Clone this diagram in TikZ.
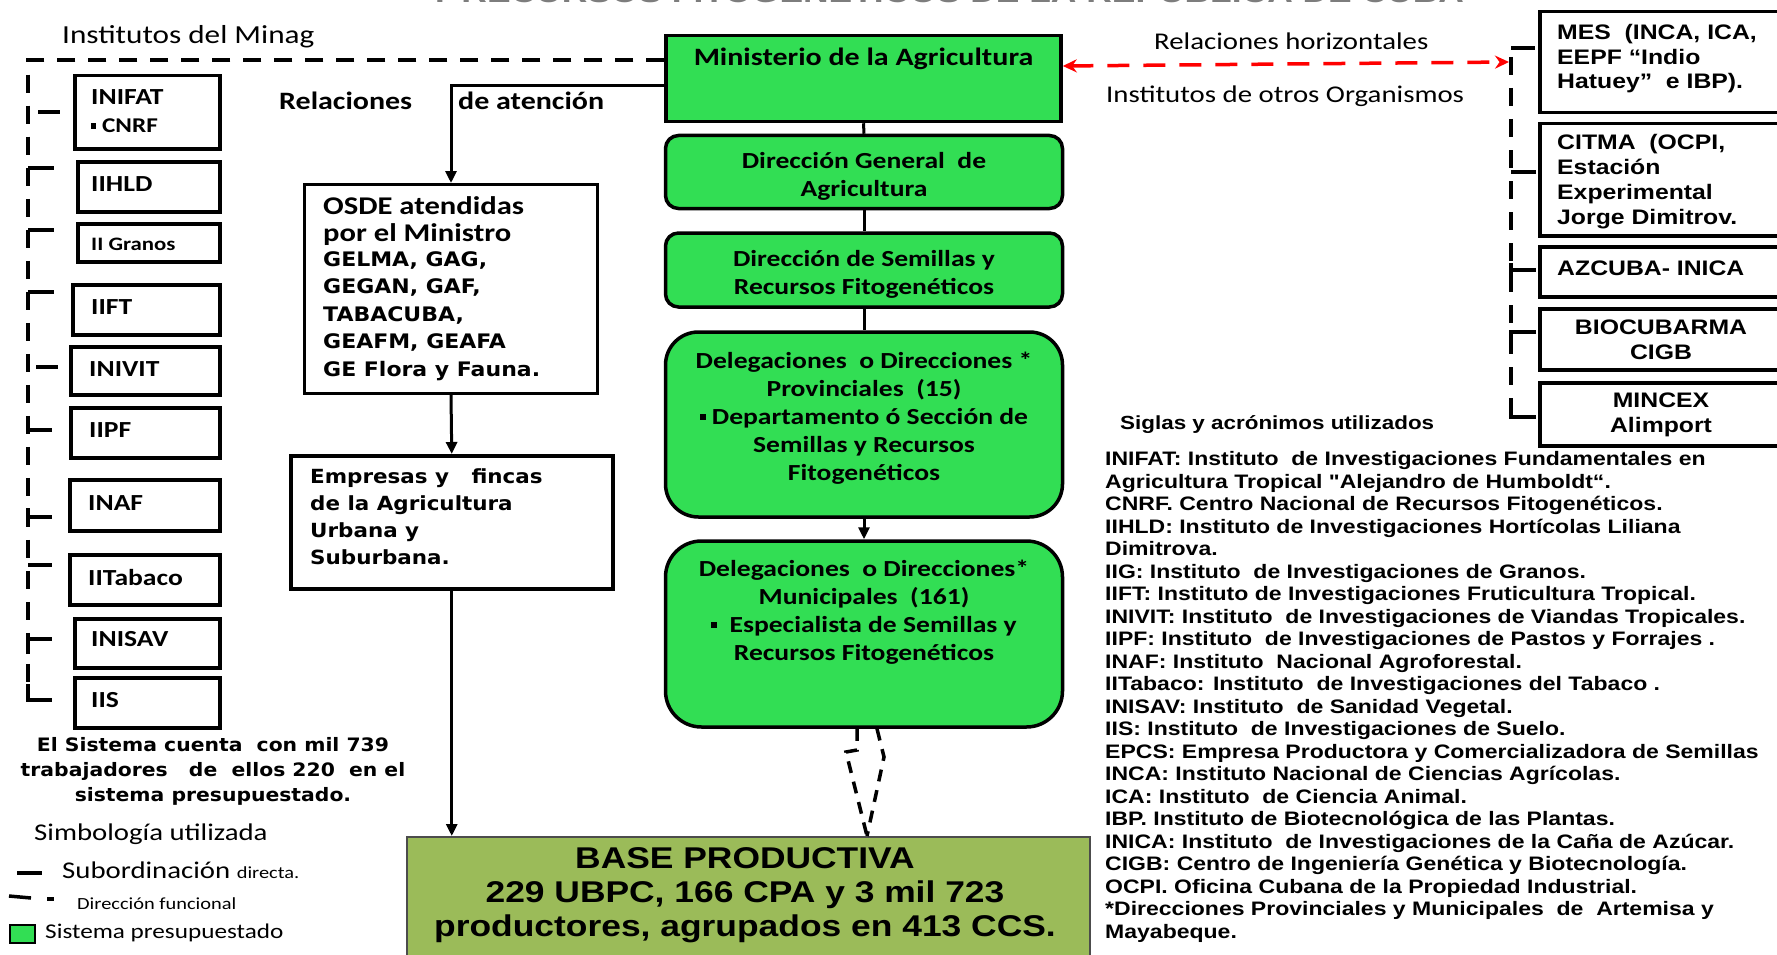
\documentclass[tikz,border=0pt]{standalone}
\usepackage{fontspec}
\setmainfont{Carlito}
\newfontfamily\calfont[FakeStretch=1.2]{Carlito}
\newfontfamily\verdfont[FakeStretch=1.1]{DejaVu Sans}
\newfontfamily\arifont[FakeStretch=1.18]{Liberation Sans}
\usetikzlibrary{arrows.meta,calc}
\definecolor{gfill}{RGB}{50,222,84}
\definecolor{ofill}{RGB}{155,187,89}
\definecolor{titlegrey}{RGB}{125,125,125}
\newcommand{\fsz}[2]{\fontsize{#1}{#2}\selectfont}
\newcommand{\sqb}{\rule[0.2em]{0.25em}{0.25em}}
\tikzset{
 wbox/.style={draw=black, line width=3.5pt, fill=white, inner sep=0pt, anchor=north west},
 gbox/.style={draw=black, line width=3.5pt, fill=gfill, inner sep=0pt, rounded corners=13pt},
 txt/.style={inner sep=0pt, align=left, anchor=west},
 ctxt/.style={inner sep=0pt, align=center},
 lbl/.style={inner sep=0pt, anchor=west, font=\calfont\bfseries\fsz{23}{27}},
 gtxt/.style={inner sep=0pt, align=center, font=\calfont\bfseries\fsz{23}{28}},
 conn/.style={line width=3pt},
 dline/.style={line width=3.5pt, dash pattern=on 18pt off 13pt},
 zline/.style={line width=3.5pt, dash pattern=on 12pt off 9pt},
 tick/.style={line width=3.5pt},
 arr/.style={-{Triangle[length=12pt,width=11pt]}},
}
\begin{document}
\begin{tikzpicture}[x=1pt,y=-1pt]
\useasboundingbox (0,0) rectangle (1777,955);
\fill[white] (0,0) rectangle (1777,955);
\clip (0,0) rectangle (1777,955);

% title (cut off at the top)
\node[inner sep=0pt, anchor=base, text=titlegrey, font=\arifont\bfseries\fsz{30}{34}] (title) at (946,3) {Y RECURSOS FITOGENÉTICOS DE LA REPÚBLICA DE CUBA};

% ---------- left: institutes of Minag ----------
\node[inner sep=0pt, anchor=west, font=\calfont\fsz{26}{30}] (tminag) at (62,37) {Institutos del Minag};

\node[wbox, minimum width=145pt, minimum height=73pt] (inifat) at (73,74) {};
\node[wbox, minimum width=142pt, minimum height=50pt] (iihld) at (76,160) {};
\node[wbox, minimum width=142pt, minimum height=38pt] (iig) at (76,222) {};
\node[wbox, minimum width=147pt, minimum height=50pt] (iift) at (71,283) {};
\node[wbox, minimum width=149pt, minimum height=48pt] (inivit) at (69,345) {};
\node[wbox, minimum width=149pt, minimum height=50pt] (iipf) at (69,406) {};
\node[wbox, minimum width=150pt, minimum height=51pt] (inaf) at (68,478) {};
\node[wbox, minimum width=150pt, minimum height=50pt] (iitab) at (68,553) {};
\node[wbox, minimum width=145pt, minimum height=49pt] (inisav) at (73,617) {};
\node[wbox, minimum width=145pt, minimum height=50pt] (iis) at (73,676) {};

\node[lbl] (linifat) at (91,97) {INIFAT};
\node[lbl, font=\calfont\bfseries\fsz{21}{25}] (lcnrf) at (91,126) {\sqb\ CNRF};
\node[lbl] (liihld) at (91,184) {IIHLD};
\node[lbl, font=\calfont\bfseries\fsz{19}{23}] (liig) at (91,244) {II Granos};
\node[lbl] (liift) at (91,307) {IIFT};
\node[lbl] (linivit) at (89,369) {INIVIT};
\node[lbl] (liipf) at (89,430) {IIPF};
\node[lbl] (linaf) at (88,503) {INAF};
\node[lbl] (liitab) at (88,578) {IITabaco};
\node[lbl] (linisav) at (91,639) {INISAV};
\node[lbl] (liis) at (91,700) {IIS};

% ---------- centre column ----------
\node[draw=black, line width=3.5pt, fill=gfill, inner sep=0pt, minimum width=395pt, minimum height=86pt] (min) at (863.5,78.5) {};
\node[gtxt, font=\calfont\bfseries\fsz{25}{28}] (tmin) at (863.5,59) {Ministerio de la Agricultura};

\node[gbox, minimum width=397pt, minimum height=73pt] (dg) at (864,172) {};
\node[gtxt] (tdg) at (864,176) {Dirección General\ \ de\\Agricultura};

\node[gbox, minimum width=397pt, minimum height=74pt] (dsr) at (864,270) {};
\node[gtxt] (tdsr) at (864,274) {Dirección de Semillas y\\Recursos Fitogenéticos};

\node[gbox, rounded corners=33pt, minimum width=397pt, minimum height=185pt] (prov) at (864,424.5) {};
\node[gtxt] (tprov) at (864,418) {Delegaciones\ \ o Direcciones *\\Provinciales\ \ (15)\\\sqb\ Departamento ó Sección de\\Semillas y Recursos\\Fitogenéticos};

\node[gbox, rounded corners=36pt, minimum width=397pt, minimum height=186pt] (mun) at (864,634) {};
\node[gtxt] (tmun) at (864,612) {Delegaciones\ \ o Direcciones*\\Municipales\ \ (161)\\\sqb\ \ Especialista de Semillas y\\Recursos Fitogenéticos};

\node[draw=black!70, line width=1.5pt, fill=ofill, inner sep=0pt, anchor=north west, minimum width=683pt, minimum height=140pt] (base) at (406,836) {};
\node[ctxt, font=\arifont\bfseries\fsz{30}{34}] (tbase) at (745,895) {BASE PRODUCTIVA\\229 UBPC, 166 CPA y 3 mil 723\\productores, agrupados en 413 CCS.};

\draw[conn] (min.south) -- (dg.north);
\draw[conn] (dg.south) -- (dsr.north);
\draw[conn] (dsr.south) -- (prov.north);
\draw[conn, arr] (prov.south) -- (mun.north);

% functional (dashed) link to base
\coordinate (za1) at (857,750);
\coordinate (za2) at (846,752);
\coordinate (zb1) at (884,757);
\coordinate (zbot) at (867,836);
\draw[zline] ([xshift=-7pt]mun.south) -- (za1) -- (za2) -- (zbot);
\draw[zline] ([xshift=13pt]mun.south) -- (zb1) -- (zbot);

% ---------- OSDE / Empresas ----------
\node[draw=black, line width=3pt, fill=white, inner sep=0pt, anchor=north west, minimum width=293pt, minimum height=209pt] (osde) at (303,183) {};
\node[txt, font=\calfont\bfseries\fsz{25.5}{27}] (tosde1) at (323,221) {OSDE atendidas\\por el Ministro};
\node[txt, font=\verdfont\bfseries\fsz{20}{27.5}] (tosde2) at (323,316) {GELMA, GAG,\\GEGAN, GAF,\\TABACUBA,\\GEAFM, GEAFA\\GE Flora y Fauna.};

\node[draw=black, line width=3.5pt, fill=white, inner sep=0pt, anchor=north west, minimum width=322pt, minimum height=133pt] (emp) at (289,454) {};
\node[txt, font=\verdfont\bfseries\fsz{19.5}{27}] (temp) at (310,517) {Empresas y\ \ \ fincas\\de la Agricultura\\Urbana y\\Suburbana.};

\coordinate (c86) at (0,86);
\draw[conn, arr] (min.west |- c86) -| (osde.north);
\draw[conn, arr] (osde.south) -- (emp.north);
\draw[conn, arr] (emp.south) -- (emp.south |- base.north);

\node[inner sep=0pt, anchor=west, font=\calfont\bfseries\fsz{25}{28}] (rel1) at (279,101) {Relaciones};
\node[inner sep=0pt, anchor=west, font=\calfont\bfseries\fsz{25}{28}] (rel2) at (458,101) {de atención};

% dashed functional frame of the institutes
\coordinate (ctop) at (28,60);
\coordinate (cbot) at (28,700);
\draw[dline] (min.west |- ctop) -- (ctop) -- (cbot);
\draw[tick] (38,112) -- (60,112);
\draw[tick] (28,168) -- (54,168);
\draw[tick] (28,230) -- (54,230);
\draw[tick] (28,292) -- (54,292);
\draw[tick] (36,367) -- (58,367);
\draw[tick] (30,430) -- (52,430);
\draw[tick] (28,508) -- (28,524);
\draw[tick] (28,517) -- (52,517);
\draw[tick] (28,565) -- (52,565);
\draw[tick] (28,654) -- (28,639) -- (52,639);
\draw[tick] (28,684) -- (28,700) -- (52,700);

% ---------- right: other organisms ----------
\node[inner sep=0pt, anchor=west, font=\calfont\fsz{24}{28}] (relh) at (1154,41) {Relaciones horizontales};
\node[inner sep=0pt, anchor=west, font=\calfont\fsz{24}{28}] (iotros) at (1106,96) {Institutos de otros Organismos};

\node[wbox, minimum width=262pt, minimum height=101pt] (mes) at (1538,10) {};
\node[wbox, minimum width=262pt, minimum height=112pt] (citma) at (1538,122) {};
\node[wbox, minimum width=262pt, minimum height=50pt] (azcuba) at (1538,245) {};
\node[wbox, minimum width=262pt, minimum height=61pt] (bio) at (1538,307) {};
\node[wbox, minimum width=262pt, minimum height=63pt] (mincex) at (1538,381) {};

\node[txt, font=\arifont\bfseries\fsz{21}{24.5}] (tmes) at (1557,59) {MES\ \ (INCA, ICA,\\EEPF “Indio\\Hatuey”\ \ e IBP).};
\node[txt, font=\arifont\bfseries\fsz{21}{25}] (tcitma) at (1557,182) {CITMA\ \ (OCPI,\\Estación\\Experimental\\Jorge Dimitrov.};
\node[txt, font=\arifont\bfseries\fsz{21}{25}] (tazc) at (1557,268) {AZCUBA- INICA};
\node[ctxt, font=\arifont\bfseries\fsz{21}{25}] (tbio) at (1661,340) {BIOCUBARMA\\CIGB};
\node[ctxt, font=\arifont\bfseries\fsz{21}{25}] (tminc) at (1661,415) {MINCEX\\Alimport};

\coordinate (rtop) at (1511,57);
\coordinate (rbot) at (1511,417);
\draw[dline] (rtop) -- (rbot);
\draw[tick] (1511,48) -- (1535,48);
\draw[tick] (1511,172) -- (1536,172);
\draw[tick] (1511,263) -- (1511,278);
\draw[tick] (1511,270) -- (1536,270);
\draw[tick] (1511,345) -- (1511,332) -- (1536,332);
\draw[tick] (1511,402) -- (1511,417) -- (1536,417);

\draw[red, line width=3.5pt, dash pattern=on 22pt off 14pt, {Stealth[length=14pt,width=13pt]}-{Stealth[length=14pt,width=13pt]}] ([yshift=12.5pt]min.east) -- (1509,62);

% ---------- acronyms ----------
\node[inner sep=0pt, anchor=west, font=\arifont\bfseries\fsz{19}{22}] (sig) at (1120,425) {Siglas y acrónimos utilizados};
\node[txt, font=\arifont\bfseries\fsz{19.5}{22.5}] (acr) at (1105,697) {INIFAT: Instituto\ \ de Investigaciones Fundamentales en\\
Agricultura Tropical "Alejandro de Humboldt“.\\
CNRF. Centro Nacional de Recursos Fitogenéticos.\\
IIHLD: Instituto de Investigaciones Hortícolas Liliana\\
Dimitrova.\\
IIG: Instituto\ \ de Investigaciones de Granos.\\
IIFT: Instituto de Investigaciones Fruticultura Tropical.\\
INIVIT: Instituto\ \ de Investigaciones de Viandas Tropicales.\\
IIPF: Instituto\ \ de Investigaciones de Pastos y Forrajes .\\
INAF: Instituto\ \ Nacional Agroforestal.\\
IITabaco: Instituto\ \ de Investigaciones del Tabaco .\\
INISAV: Instituto\ \ de Sanidad Vegetal.\\
IIS: Instituto\ \ de Investigaciones de Suelo.\\
EPCS: Empresa Productora y Comercializadora de Semillas\\
INCA: Instituto Nacional de Ciencias Agrícolas.\\
ICA: Instituto\ \ de Ciencia Animal.\\
IBP. Instituto de Biotecnológica de las Plantas.\\
INICA: Instituto\ \ de Investigaciones de la Caña de Azúcar.\\
CIGB: Centro de Ingeniería Genética y Biotecnología.\\
OCPI. Oficina Cubana de la Propiedad Industrial.\\
*Direcciones Provinciales y Municipales\ \ de\ \ Artemisa y\\
Mayabeque.};

% ---------- bottom left ----------
\node[ctxt, font=\verdfont\bfseries\fsz{18.5}{25}] (tsist) at (213,771) {El Sistema cuenta\ \ con mil 739\\trabajadores\ \ \ de\ \ ellos 220\ \ en el\\sistema presupuestado.};

\node[inner sep=0pt, anchor=west, font=\calfont\fsz{24}{28}] (simb) at (34,834) {Simbología utilizada};
\draw[line width=3.5pt] (17,873) -- (42,873);
\node[inner sep=0pt, anchor=west, font=\calfont\fsz{24}{28}] (lsub) at (62,870) {Subordinación {\fsz{17}{20}directa.}};
\draw[line width=3.5pt] (9,896) -- (31,898);
\draw[line width=3.5pt] (47,899) -- (54,899);
\node[inner sep=0pt, anchor=west, font=\calfont\fsz{17}{20}] (ldir) at (77,904) {Dirección funcional};
\node[draw=black, line width=1.5pt, fill=gfill, inner sep=0pt, anchor=north west, minimum width=25pt, minimum height=18pt] (lgreen) at (9,924) {};
\node[inner sep=0pt, anchor=west, font=\calfont\fsz{21}{24}] (lsist) at (45,933) {Sistema presupuestado};
\end{tikzpicture}
\end{document}
